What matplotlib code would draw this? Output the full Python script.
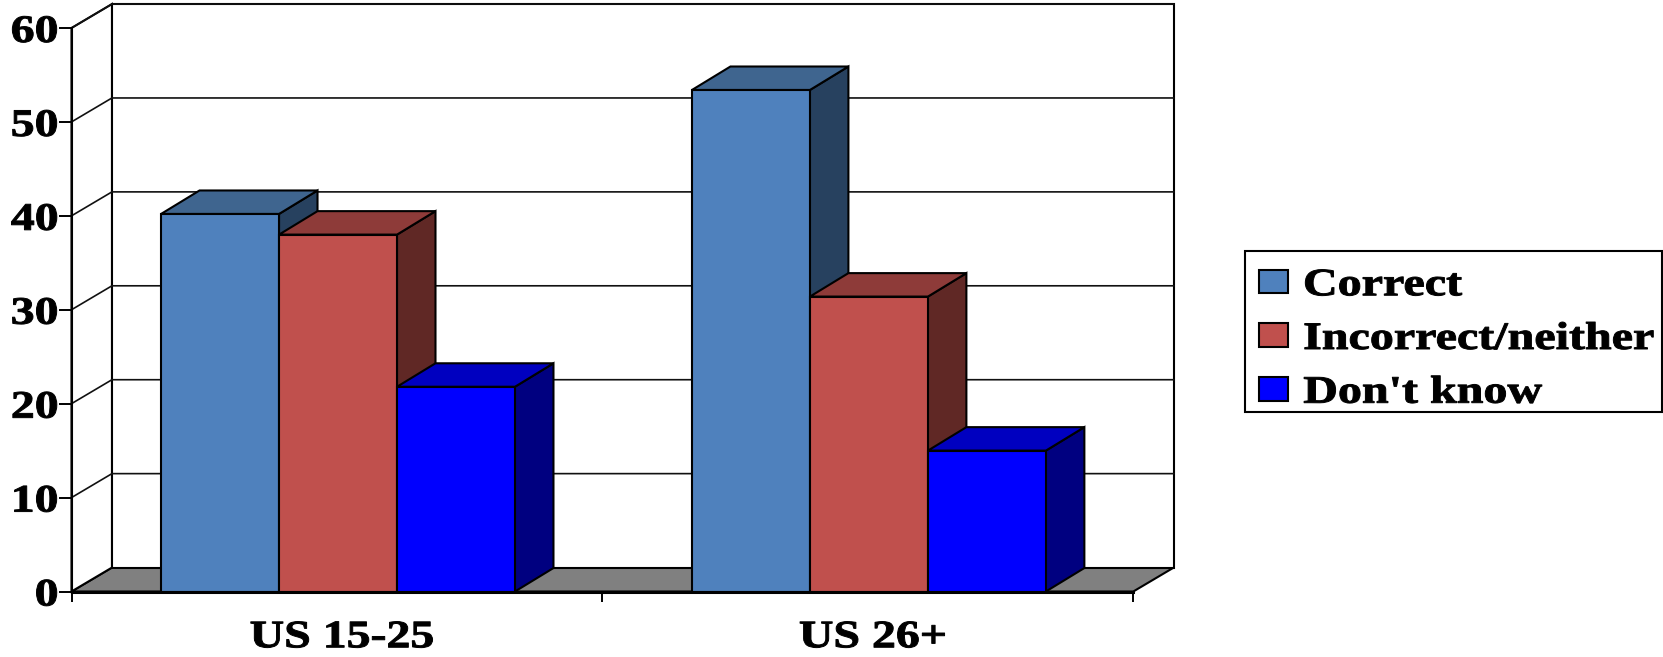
import matplotlib
matplotlib.use("Agg")
from matplotlib import pyplot as plt
from matplotlib.patches import Patch, Polygon, Rectangle
from matplotlib.patheffects import AbstractPathEffect
from matplotlib.transforms import Affine2D

categories = ["US 15-25", "US 26+"]
series_names = ["Correct", "Incorrect/neither", "Don't know"]
correct = [40.2, 53.4]
incorrect = [38, 31.4]
dont_know = [21.8, 15]
y_ticks = [0, 10, 20, 30, 40, 50, 60]

front_colors = ["#4F81BD", "#C0504D", "#0000FF"]
top_colors = ["#3F658F", "#8E3B39", "#0000C0"]
side_colors = ["#27415F", "#602825", "#000080"]

BAR_W = 1 / 4.5  # gap width of 150% of a bar
DEPTH_X = 0.0762
DEPTH_Y = 2.55
BAR_DX = 0.0725
BAR_DY = 2.5
LINE = 1.5


class Stretch(AbstractPathEffect):
    """Widens and thickens drawn text, keeping a fraction of its width in place."""

    def __init__(self, sx, anchor=0.5, dx=0, bold=0.7):
        super().__init__()
        self.sx = sx
        self.anchor = anchor
        self.dx = dx
        self.bold = bold

    def draw_path(self, renderer, gc, tpath, affine, rgbFace=None):
        box = tpath.get_extents(affine)
        cx = box.x0 + self.anchor * box.width
        stretch = Affine2D().translate(-cx, 0).scale(self.sx, 1).translate(cx + self.dx, 0)
        gc0 = renderer.new_gc()
        gc0.copy_properties(gc)
        gc0.set_foreground("black")
        gc0.set_linewidth(self.bold)
        gc0.set_joinstyle("round")
        renderer.draw_path(gc0, tpath, affine + stretch, rgbFace)
        gc0.restore()


plt.rcParams["font.family"] = "Liberation Serif"
plt.rcParams["font.weight"] = "bold"
FONT = 28

W, H = 1663, 657
fig = plt.figure(figsize=(W / 100, H / 100), dpi=100, facecolor="white")
ax = fig.add_axes([71.5 / W, (H - 591.5) / H, 1061.8 / W, 563.5 / H])
ax.set_xlim(0, 2)
ax.set_ylim(0, 60)
ax.patch.set_visible(False)


def poly(points, face, z):
    ax.add_patch(Polygon(points, closed=True, facecolor=face, edgecolor="black",
                         linewidth=LINE, joinstyle="miter", clip_on=False, zorder=z))


# floor and back wall
poly([(0, 0), (2, 0), (2 + DEPTH_X, DEPTH_Y), (DEPTH_X, DEPTH_Y)], "#808080", 1)
poly([(DEPTH_X, DEPTH_Y), (2 + DEPTH_X, DEPTH_Y), (2 + DEPTH_X, 60 + DEPTH_Y), (DEPTH_X, 60 + DEPTH_Y)],
     "white", 1)
poly([(0, 0), (DEPTH_X, DEPTH_Y), (DEPTH_X, 60 + DEPTH_Y), (0, 60)], "white", 1)

for v in y_ticks[1:]:
    ax.plot([0, DEPTH_X, 2 + DEPTH_X], [v, v + DEPTH_Y, v + DEPTH_Y], color="#111111",
            lw=1.2, clip_on=False, zorder=2)

# bars, left to right so each one overlaps the side of the previous
z = 3
for g in range(len(categories)):
    for s, values in enumerate([correct, incorrect, dont_know]):
        x0 = g + 0.502 - 1.5 * BAR_W + s * BAR_W
        x1 = x0 + BAR_W
        v = values[g]
        poly([(x1, 0), (x1 + BAR_DX, BAR_DY), (x1 + BAR_DX, v + BAR_DY), (x1, v)], side_colors[s], z)
        poly([(x0, v), (x1, v), (x1 + BAR_DX, v + BAR_DY), (x0 + BAR_DX, v + BAR_DY)], top_colors[s], z)
        poly([(x0, 0), (x1, 0), (x1, v), (x0, v)], front_colors[s], z)
        z += 1

for name in ["top", "right"]:
    ax.spines[name].set_visible(False)
ax.spines["left"].set_linewidth(1.5)
ax.spines["bottom"].set_linewidth(2.2)
ax.spines["left"].set_zorder(30)
ax.spines["bottom"].set_zorder(30)

ax.set_yticks(y_ticks)
ax.set_xticks([0, 1, 2])
ax.set_xticklabels([])
ax.set_xticks([0.5, 1.5], minor=True)
ax.set_xticklabels(categories, minor=True)
ax.tick_params(axis="y", length=9.5, width=1.4, labelsize=FONT, pad=0)
ax.tick_params(axis="x", which="major", length=7, width=1.4)
ax.tick_params(axis="x", which="minor", length=0, labelsize=FONT, pad=20)

for label in ax.get_yticklabels():
    label.set_path_effects([Stretch(1.23, 1)])
for label in ax.get_xticklabels(minor=True):
    label.set_path_effects([Stretch(1.23, 0.5, dx=5)])

# legend box, kept separate so its height does not follow the row spacing
ax.add_patch(Rectangle((1244.7 / W, (H - 412) / H), (1662 - 1244.7) / W, 161.3 / H,
                       transform=fig.transFigure, facecolor="white", edgecolor="black",
                       linewidth=LINE, clip_on=False, zorder=40))
handles = [Patch(facecolor=c, edgecolor="black", linewidth=LINE) for c in front_colors]
leg = ax.legend(handles, series_names, loc="upper left",
                bbox_to_anchor=(1244.7 / W, (H - 252.5) / H),
                bbox_transform=fig.transFigure, borderaxespad=0, fontsize=FONT,
                frameon=False, handlelength=0.745, handleheight=0.566, handletextpad=0.385,
                borderpad=0.38, labelspacing=0.43)
leg.set_zorder(50)
for text in leg.get_texts():
    text.set_path_effects([Stretch(1.235, 0)])

fig.savefig("out.png", dpi=100, facecolor="white")
